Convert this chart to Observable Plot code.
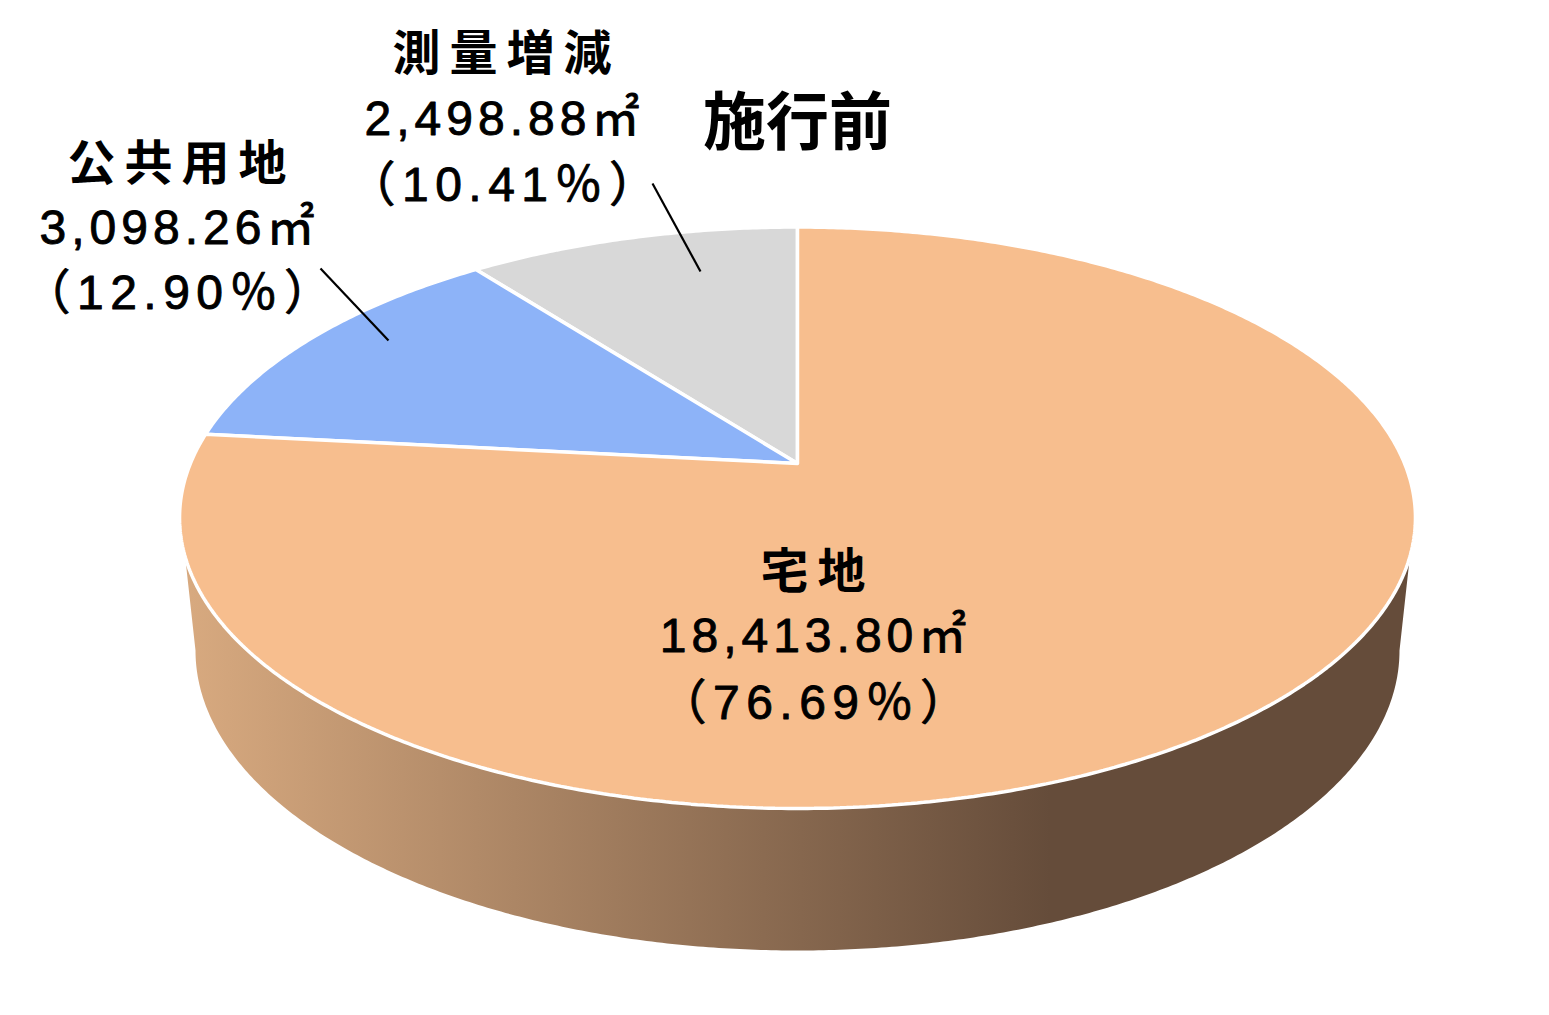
<!DOCTYPE html>
<html lang="ja">
<head>
<meta charset="utf-8">
<script src="https://cdn.jsdelivr.net/npm/d3@7"></script>
<script src="https://cdn.jsdelivr.net/npm/@observablehq/plot@0.6"></script>
<style>
html,body{margin:0;padding:0;background:#fff;overflow:hidden}
svg{display:block}
.kanji text{letter-spacing:9px}
.nums text{letter-spacing:5px}
.pcts text{letter-spacing:6.5px}
.ttl text{letter-spacing:0}
</style>
</head>
<body>
<div id="chart"></div>
<script>
// Data
const titleText = "施行前";
const categories = ["測量増減", "公共用地", "宅地"];
const areas = [2498.88, 3098.26, 18413.80];
const percents = [10.41, 12.90, 76.69];
const colors = ["#D8D8D8", "#8DB3F8", "#F7BE8E"];

// Layout (pixels)
const W = 1549, H = 1015;
const cx = 797, cy = 463;              // pie apex on screen
const k = 607.1, m = 280.6, p = 0.1866; // perspective of the top disc
const wall = {cx: 797, cy: 650, a: 602, b: 300};
const labelX = [502, 177, 813];
const labelY = [[54, 119, 185], [164, 228, 293], [572, 636, 703]];
const leaders = [
  {x1: 652, y1: 183, x2: 700, y2: 271},
  {x1: 320, y1: 268, x2: 388, y2: 340}
];

// Disc projection: angle measured anticlockwise from the top of the disc
const project = t => {
  const u = -Math.sin(t), v = -Math.cos(t), d = 1 - p * v;
  return [cx + k * u / d, cy + m * v / d];
};

const total = d3.sum(areas);
const step = Math.PI / 360;
let start = 0;
const slicePoints = categories.flatMap((name, i) => {
  const end = start + 2 * Math.PI * areas[i] / total;
  const pts = [{name, x: cx, y: cy}];
  const n = Math.ceil((end - start) / step);
  for (let j = 0; j <= n; ++j) {
    const [x, y] = project(start + (end - start) * j / n);
    pts.push({name, x, y});
  }
  pts.push({name, x: cx, y: cy});
  start = end;
  return pts;
});

// Side wall: bottom ellipse, then back along the lower rim of the disc
const wallPoints = [];
for (let j = 0; j <= 360; ++j) {
  const a = Math.PI - Math.PI * j / 360;
  wallPoints.push({x: wall.cx + wall.a * Math.cos(a), y: wall.cy + wall.b * Math.sin(a)});
}
{
  const rim = [];
  for (let j = 0; j <= 1440; ++j) {
    const [x, y] = project(2 * Math.PI * j / 1440);
    if (y >= 556) rim.push({x, y});
  }
  rim.sort((a, b) => b.x - a.x);
  wallPoints.push(...rim);
}

const labels1 = categories.map((t, i) => ({t, x: labelX[i] + 4, y: labelY[i][0]}));
const labels2 = areas.map((a, i) => ({t: d3.format(",.2f")(a) + "㎡", x: labelX[i] + 2, y: labelY[i][1]}));
const labels3 = percents.map((a, i) => ({t: "（" + a.toFixed(2) + "％）", x: labelX[i] + 3, y: labelY[i][2]}));

const font = "'Noto Sans CJK JP','Noto Sans',sans-serif";
const numFont = "'Liberation Sans','Noto Sans CJK JP',sans-serif";

const gradient = () => {
  const defs = d3.create("svg:defs");
  const g = defs.append("linearGradient").attr("id", "wallGrad")
    .attr("gradientUnits", "userSpaceOnUse")
    .attr("x1", 190).attr("x2", 1050).attr("y1", 0).attr("y2", 0);
  g.append("stop").attr("offset", "0%").attr("stop-color", "#D7A97F");
  g.append("stop").attr("offset", "100%").attr("stop-color", "#654C3A");
  return defs.node();
};

const plot = Plot.plot({
  width: W, height: H,
  margin: 0,
  x: {domain: [0, W], range: [0, W], axis: null},
  y: {domain: [0, H], range: [0, H], axis: null},
  color: {domain: categories, range: colors},
  style: {background: "#fff", fontFamily: font},
  marks: [
    gradient,
    Plot.line(wallPoints, {x: "x", y: "y", fill: "url(#wallGrad)", stroke: "none"}),
    Plot.line(slicePoints, {x: "x", y: "y", z: "name", fill: "name", stroke: "#fff", strokeWidth: 3.5, strokeLinejoin: "miter"}),
    Plot.link(leaders, {x1: "x1", y1: "y1", x2: "x2", y2: "y2", stroke: "#000", strokeWidth: 2.2}),
    Plot.text(labels1, {x: "x", y: "y", text: "t", fontSize: 48, fontWeight: 700, fill: "#000", className: "kanji"}),
    Plot.text(labels2, {x: "x", y: "y", text: "t", fontSize: 48, fontFamily: numFont, stroke: "#000", strokeWidth: 0.9, fill: "#000", className: "nums"}),
    Plot.text(labels3, {x: "x", y: "y", text: "t", fontSize: 48, fontFamily: numFont, stroke: "#000", strokeWidth: 0.9, fill: "#000", className: "pcts"}),
    Plot.text([titleText], {x: [797], y: [123], text: d => d, fontSize: 63, fontWeight: 700, fill: "#000", className: "ttl"})
  ]
});
document.getElementById("chart").append(plot);
</script>
</body>
</html>
